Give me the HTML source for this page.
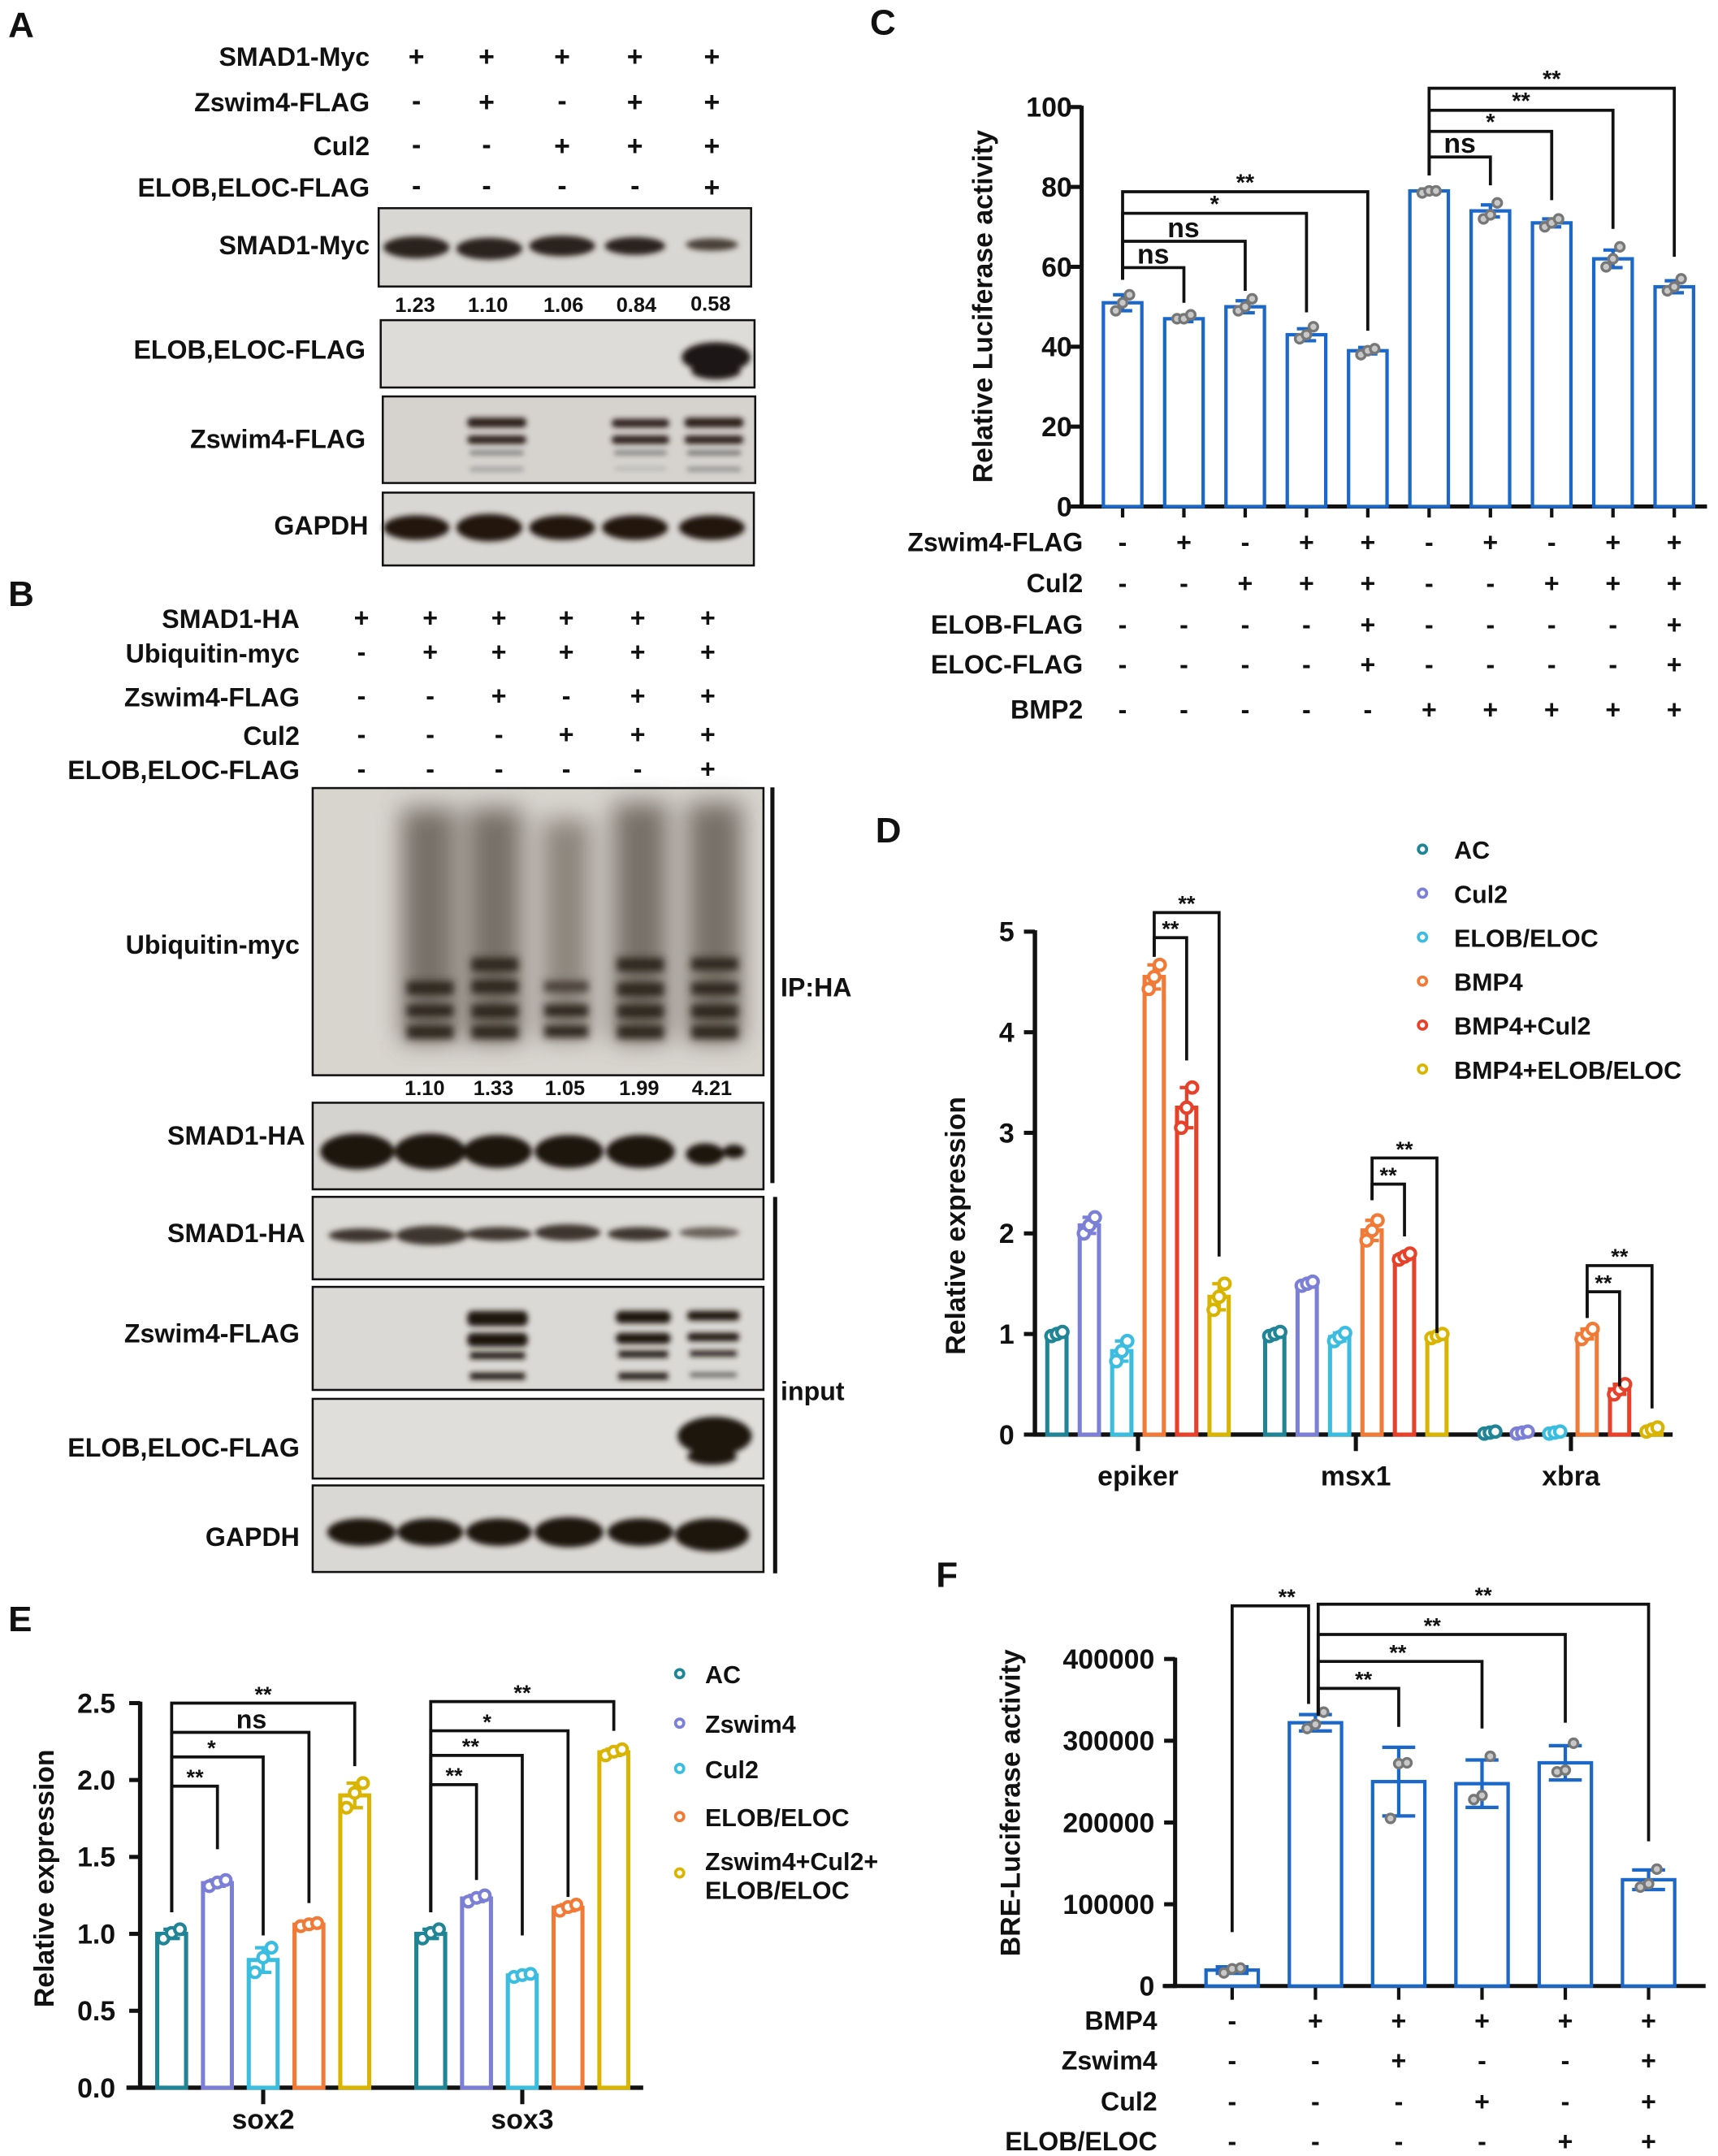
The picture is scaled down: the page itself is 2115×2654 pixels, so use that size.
<!DOCTYPE html>
<html><head><meta charset="utf-8"><style>
html,body{margin:0;padding:0;background:#fff;}
svg{display:block;}
text{font-family:"Liberation Sans",sans-serif;font-weight:bold;fill:#111;}
</style></head><body>
<svg id="fig" width="2115" height="2654" viewBox="0 0 1250 1569" preserveAspectRatio="none" xmlns="http://www.w3.org/2000/svg">
<defs>
<filter id="b2" x="-30%" y="-60%" width="160%" height="220%"><feGaussianBlur stdDeviation="2"/></filter>
<filter id="b3" x="-30%" y="-60%" width="160%" height="220%"><feGaussianBlur stdDeviation="2.8"/></filter>
<filter id="b4" x="-30%" y="-30%" width="160%" height="160%"><feGaussianBlur stdDeviation="4"/></filter>
<filter id="b8" x="-30%" y="-30%" width="160%" height="160%"><feGaussianBlur stdDeviation="9"/></filter>
</defs>

<!-- PANEL A -->
<g>
<text x="6" y="27" font-size="26">A</text>
<g font-size="19" text-anchor="end">
<text x="269" y="48">SMAD1-Myc</text><text x="269" y="81">Zswim4-FLAG</text><text x="269" y="113">Cul2</text><text x="269" y="143">ELOB,ELOC-FLAG</text>
</g>
<g font-size="20" text-anchor="middle">
<text x="303" y="48">+</text><text x="354" y="48">+</text><text x="409" y="48">+</text><text x="462" y="48">+</text><text x="518" y="48">+</text>
<text x="303" y="80">-</text><text x="354" y="81">+</text><text x="409" y="80">-</text><text x="462" y="81">+</text><text x="518" y="81">+</text>
<text x="303" y="112">-</text><text x="354" y="112">-</text><text x="409" y="113">+</text><text x="462" y="113">+</text><text x="518" y="113">+</text>
<text x="303" y="142">-</text><text x="354" y="142">-</text><text x="409" y="142">-</text><text x="462" y="142">-</text><text x="518" y="143">+</text>
</g>
<g>
<rect x="275.5" y="151.5" width="271" height="57" fill="#d9d7d3" stroke="#111" stroke-width="1.5"/>
<g filter="url(#b2)" fill="#2a211c"><ellipse cx="303" cy="180" rx="24" ry="8"/><ellipse cx="356" cy="181" rx="24" ry="8"/><ellipse cx="409" cy="179" rx="24" ry="7.5"/><ellipse cx="462" cy="179" rx="22" ry="6.5"/><ellipse cx="518" cy="178" rx="19" ry="4.5" fill="#4a3f38"/></g>
<text x="269" y="185" font-size="19" text-anchor="end">SMAD1-Myc</text>
</g>
<g font-size="15" text-anchor="middle">
<text x="302" y="227">1.23</text><text x="355" y="227">1.10</text><text x="410" y="227">1.06</text><text x="463" y="227">0.84</text><text x="517" y="226">0.58</text>
</g>
<g>
<rect x="277" y="233" width="272" height="49" fill="#dedcd8" stroke="#111" stroke-width="1.5"/>
<g filter="url(#b2)" fill="#1f1612"><ellipse cx="521" cy="260" rx="25" ry="11"/><ellipse cx="521" cy="270" rx="18" ry="6"/></g>
<text x="266" y="261" font-size="19" text-anchor="end">ELOB,ELOC-FLAG</text>
</g>
<g>
<rect x="278.5" y="288.5" width="271" height="63" fill="#d6d3cf" stroke="#111" stroke-width="1.5"/>
<g filter="url(#b2)" fill="#2a1e18">
<rect x="340" y="304" width="43" height="7" rx="3"/><rect x="340" y="317" width="43" height="6" rx="3"/><rect x="342" y="328" width="39" height="3" fill="#777"/><rect x="342" y="340" width="39" height="3" fill="#999"/>
<rect x="445" y="305" width="42" height="6" rx="3"/><rect x="445" y="317" width="42" height="6" rx="3"/><rect x="447" y="328" width="38" height="3" fill="#777"/><rect x="447" y="340" width="38" height="2" fill="#aaa"/>
<rect x="498" y="304" width="43" height="7" rx="3"/><rect x="498" y="317" width="43" height="6" rx="3"/><rect x="500" y="328" width="39" height="3" fill="#666"/><rect x="500" y="340" width="39" height="3" fill="#888"/>
</g>
<text x="266" y="326" font-size="19" text-anchor="end">Zswim4-FLAG</text>
</g>
<g>
<rect x="278.5" y="358.5" width="270" height="53" fill="#d9d7d4" stroke="#111" stroke-width="1.5"/>
<g filter="url(#b2)" fill="#22170f"><ellipse cx="303" cy="384" rx="24" ry="9"/><ellipse cx="356" cy="384" rx="24" ry="10"/><ellipse cx="409" cy="384" rx="24" ry="9"/><ellipse cx="462" cy="384" rx="24" ry="9"/><ellipse cx="518" cy="384" rx="24" ry="9"/></g>
<text x="268" y="389" font-size="19" text-anchor="end">GAPDH</text>
</g>
</g>

<!-- PANEL B -->
<g>
<text x="6" y="441" font-size="26">B</text>
<g font-size="19" text-anchor="end">
<text x="218" y="457">SMAD1-HA</text><text x="218" y="482">Ubiquitin-myc</text><text x="218" y="514">Zswim4-FLAG</text><text x="218" y="542">Cul2</text><text x="218" y="567">ELOB,ELOC-FLAG</text>
</g>
<g font-size="19" text-anchor="middle">
<text x="263" y="456">+</text><text x="313" y="456">+</text><text x="363" y="456">+</text><text x="412" y="456">+</text><text x="464" y="456">+</text><text x="515" y="456">+</text>
<text x="263" y="481">-</text><text x="313" y="481">+</text><text x="363" y="481">+</text><text x="412" y="481">+</text><text x="464" y="481">+</text><text x="515" y="481">+</text>
<text x="263" y="513">-</text><text x="313" y="513">-</text><text x="363" y="513">+</text><text x="412" y="513">-</text><text x="464" y="513">+</text><text x="515" y="513">+</text>
<text x="263" y="541">-</text><text x="313" y="541">-</text><text x="363" y="541">-</text><text x="412" y="541">+</text><text x="464" y="541">+</text><text x="515" y="541">+</text>
<text x="263" y="566">-</text><text x="313" y="566">-</text><text x="363" y="566">-</text><text x="412" y="566">-</text><text x="464" y="566">-</text><text x="515" y="566">+</text>
</g>
<g>
<rect x="227.5" y="573.5" width="328" height="209" fill="#d8d5cf" stroke="#111" stroke-width="1.5"/>
<g filter="url(#b8)" fill="#5e564e" opacity="0.8">
<rect x="292" y="588" width="40" height="170"/><rect x="340" y="588" width="40" height="170"/><rect x="394" y="596" width="36" height="160" fill="#7a7269"/><rect x="446" y="584" width="40" height="174"/><rect x="500" y="584" width="40" height="174"/>
</g>
<g filter="url(#b3)" fill="#2d251f">
<rect x="296" y="714" width="34" height="10"/><rect x="296" y="731" width="34" height="9"/><rect x="296" y="746" width="34" height="10"/>
<rect x="343" y="697" width="34" height="10"/><rect x="343" y="713" width="34" height="10"/><rect x="343" y="731" width="34" height="10"/><rect x="343" y="746" width="34" height="10"/>
<rect x="396" y="714" width="32" height="8" fill="#4a4038"/><rect x="396" y="731" width="32" height="9"/><rect x="396" y="746" width="32" height="9"/>
<rect x="449" y="697" width="34" height="10"/><rect x="449" y="715" width="34" height="10"/><rect x="449" y="731" width="34" height="10"/><rect x="449" y="746" width="34" height="10"/>
<rect x="503" y="697" width="34" height="9"/><rect x="503" y="715" width="34" height="9"/><rect x="503" y="731" width="34" height="10"/><rect x="503" y="746" width="34" height="10"/>
</g>
<text x="218" y="694" font-size="19" text-anchor="end">Ubiquitin-myc</text>
</g>
<g font-size="15" text-anchor="middle">
<text x="309" y="797">1.10</text><text x="359" y="797">1.33</text><text x="411" y="797">1.05</text><text x="465" y="797">1.99</text><text x="518" y="797">4.21</text>
</g>
<g>
<rect x="227.5" y="802.5" width="328" height="63" fill="#d5d3cf" stroke="#111" stroke-width="1.5"/>
<g filter="url(#b2)" fill="#1e140e"><ellipse cx="260" cy="838" rx="27" ry="13"/><ellipse cx="313" cy="838" rx="26" ry="13"/><ellipse cx="362" cy="838" rx="25" ry="12"/><ellipse cx="414" cy="838" rx="25" ry="12"/><ellipse cx="466" cy="838" rx="25" ry="12"/><ellipse cx="513" cy="840" rx="14" ry="8"/><ellipse cx="534" cy="838" rx="8" ry="5"/></g>
<text x="222" y="833" font-size="19" text-anchor="end">SMAD1-HA</text>
</g>
<line x1="562" y1="573" x2="562" y2="861" stroke="#111" stroke-width="3"/>
<text x="568" y="725" font-size="19">IP:HA</text>
<g>
<rect x="227.5" y="871" width="328" height="60" fill="#dcdad6" stroke="#111" stroke-width="1.5"/>
<g filter="url(#b2)" fill="#3e342d"><ellipse cx="263" cy="899" rx="24" ry="5"/><ellipse cx="314" cy="899" rx="26" ry="7"/><ellipse cx="363" cy="898" rx="24" ry="5"/><ellipse cx="413" cy="897" rx="24" ry="6"/><ellipse cx="465" cy="898" rx="23" ry="5"/><ellipse cx="516" cy="897" rx="22" ry="4" fill="#6a625a"/></g>
<text x="222" y="904" font-size="19" text-anchor="end">SMAD1-HA</text>
</g>
<g>
<rect x="227.5" y="936.5" width="328" height="75" fill="#dbd9d5" stroke="#111" stroke-width="1.5"/>
<g filter="url(#b2)" fill="#1e140e">
<rect x="340" y="954" width="44" height="11" rx="4"/><rect x="340" y="970" width="44" height="10" rx="4"/><rect x="342" y="984" width="40" height="5"/><rect x="342" y="999" width="40" height="5"/>
<rect x="448" y="954" width="40" height="9" rx="4"/><rect x="448" y="970" width="40" height="8" rx="4"/><rect x="450" y="983" width="36" height="5"/><rect x="450" y="999" width="36" height="5"/>
<rect x="500" y="954" width="38" height="7" rx="3"/><rect x="500" y="970" width="38" height="6" rx="3"/><rect x="502" y="983" width="34" height="4"/><rect x="502" y="999" width="34" height="3" fill="#555"/>
</g>
<text x="218" y="977" font-size="19" text-anchor="end">Zswim4-FLAG</text>
</g>
<g>
<rect x="227.5" y="1018" width="328" height="58" fill="#dfdedb" stroke="#111" stroke-width="1.5"/>
<g filter="url(#b2)" fill="#1e120c"><ellipse cx="520" cy="1045" rx="27" ry="14"/><ellipse cx="518" cy="1060" rx="18" ry="6"/></g>
<text x="218" y="1060" font-size="19" text-anchor="end">ELOB,ELOC-FLAG</text>
</g>
<g>
<rect x="227.5" y="1081" width="328" height="63" fill="#dad8d4" stroke="#111" stroke-width="1.5"/>
<g filter="url(#b2)" fill="#1f140d"><ellipse cx="263" cy="1115" rx="25" ry="10"/><ellipse cx="313" cy="1115" rx="24" ry="10"/><ellipse cx="363" cy="1115" rx="24" ry="10"/><ellipse cx="414" cy="1115" rx="25" ry="11"/><ellipse cx="466" cy="1115" rx="24" ry="10"/><ellipse cx="518" cy="1117" rx="27" ry="12"/></g>
<text x="218" y="1125" font-size="19" text-anchor="end">GAPDH</text>
</g>
<line x1="564" y1="871" x2="564" y2="1145" stroke="#111" stroke-width="3"/>
<text x="568" y="1019" font-size="19">input</text>
</g>

<text x="633" y="25" font-size="26">C</text>
<text x="637" y="613" font-size="26">D</text>
<text x="6" y="1187" font-size="26">E</text>
<text x="681" y="1155" font-size="26">F</text>
<g id="charts"></g>
</svg>
<script>
// ---------- DATA ----------
// Panel C
const cValues = [51, 47, 50, 43, 39, 79, 74, 71, 62, 55];
const cErr = [2, 0.7, 1.5, 1.5, 0.8, 0.5, 1.5, 1, 2.2, 1.5];
const cReps = [[49,51,53],[47,47,48],[49,50,52],[42,43,45],[38,39,39.5],[78.5,79,79],[72,73,76],[70,71,72],[60,62,65],[54,55,57]];
const cTicks = [0, 20, 40, 60, 80, 100];
const cBrackets = [[0,1,59.8,56.8,51,"ns"],[0,2,66.4,56.8,54,"ns"],[0,3,73.4,56.8,48.6,"*"],[0,4,78.8,56.8,44,"**"],
  [5,6,87.5,82.9,80.4,"ns"],[5,7,93.9,82.9,76.7,"*"],[5,8,99.2,82.9,69.5,"**"],[5,9,104.7,82.9,62.5,"**"]];
const cRowNames = ["Zswim4-FLAG","Cul2","ELOB-FLAG","ELOC-FLAG","BMP2"];
const cRows = [
  ["-","+","-","+","+","-","+","-","+","+"],
  ["-","-","+","+","+","-","-","+","+","+"],
  ["-","-","-","-","+","-","-","-","-","+"],
  ["-","-","-","-","+","-","-","-","-","+"],
  ["-","-","-","-","-","+","+","+","+","+"]];
// Panel D
const dGroups = ["epiker","msx1","xbra"];
const dSeries = ["AC","Cul2","ELOB/ELOC","BMP4","BMP4+Cul2","BMP4+ELOB/ELOC"];
const dAC = [1.0, 1.0, 0.02];
const dCul2 = [2.08, 1.5, 0.02];
const dELOB = [0.83, 0.97, 0.02];
const dBMP4 = [4.55, 2.03, 1.0];
const dBMP4Cul2 = [3.25, 1.77, 0.45];
const dBMP4ELOB = [1.37, 0.98, 0.05];
const dErr = [[0.02,0.02,0.01],[0.08,0.02,0.01],[0.1,0.04,0.01],[0.12,0.1,0.05],[0.2,0.03,0.05],[0.13,0.02,0.02]];
const dTicks = [0,1,2,3,4,5];
const dBrackets = [[0,3,4,4.94,4.75,3.72],[0,3,5,5.19,4.75,1.77],[1,3,4,2.49,2.33,1.97],[1,3,5,2.75,2.33,1.01],[2,3,4,1.42,1.16,0.48],[2,3,5,1.68,1.16,0.26]];
// Panel E
const eGroups = ["sox2","sox3"];
const eSeries = ["AC","Zswim4","Cul2","ELOB/ELOC","Zswim4+Cul2+\nELOB/ELOC"];
const eAC = [1.0, 1.0];
const eZswim4 = [1.33, 1.23];
const eCul2 = [0.83, 0.73];
const eELOB = [1.06, 1.17];
const eCombo = [1.9, 2.18];
const eErr = [[0.03,0.03],[0.02,0.02],[0.08,0.01],[0.01,0.02],[0.08,0.02]];
const eTicks = [0, 0.5, 1.0, 1.5, 2.0, 2.5];
const eBrackets = [[0,1,1.96,1.14,1.55,"**"],[0,2,2.15,1.14,0.99,"*"],[0,3,2.31,1.14,1.2,"ns"],[0,4,2.5,1.14,2.09,"**"],
  [1,1,1.97,1.14,1.35,"**"],[1,2,2.16,1.14,0.99,"**"],[1,3,2.32,1.14,1.24,"*"],[1,4,2.51,1.14,2.32,"**"]];
// Panel F
const fValues = [19500, 322000, 250000, 247500, 273000, 130000];
const fErr = [4000, 10000, 42000, 29000, 21000, 12000];
const fReps = [[16000,21000,22000],[315000,320000,335000],[205000,272000,273000],[228000,233000,281000],[262000,264000,297000],[121000,125000,143000]];
const fTicks = [0, 100000, 200000, 300000, 400000];
const fBrackets = [[0,1,465000,66000,345000],[1,2,364000,331000,317000],[1,3,397000,331000,315000],[1,4,430000,331000,322000],[1,5,467000,331000,177000]];
const fRowNames = ["BMP4","Zswim4","Cul2","ELOB/ELOC"];
const fRows = [["-","+","+","+","+","+"],["-","-","+","-","-","+"],["-","-","-","+","-","+"],["-","-","-","-","+","+"]];

const colors = {AC:"#1e8496",Cul2:"#7b7fd6",Zswim4:"#7b7fd6",ELOB:"#3bbde0",BMP4:"#f07a36",BMP4Cul2:"#e8412a",gold:"#d9b400",cyan:"#3bbde0",orange:"#f07a36"};
const dColors = [colors.AC, colors.Cul2, colors.ELOB, colors.BMP4, colors.BMP4Cul2, colors.gold];
const eColors = [colors.AC, colors.Zswim4, colors.cyan, colors.orange, colors.gold];

// ---------- HELPERS ----------
const NS = "http://www.w3.org/2000/svg";
const root = document.getElementById("charts");
function mk(parent, tag, attrs, txt) {
  const el = document.createElementNS(NS, tag);
  for (const k in attrs) el.setAttribute(k, attrs[k]);
  if (txt !== undefined) el.textContent = txt;
  parent.appendChild(el);
  return el;
}
function grp(name) {
  const g = mk(root, "g", {});
  
  
  return g;
}
function line(g, x1, y1, x2, y2, w, c, name) {
  const el = mk(g, "line", {x1, y1, x2, y2, stroke: c || "#111", "stroke-width": w || 2.5});
  
  
  return el;
}
function txt(g, x, y, s, size, anchor, name, extra) {
  const el = mk(g, "text", Object.assign({x, y, "font-size": size, "text-anchor": anchor || "middle"}, extra || {}), s);
  
  
  return el;
}
function dot(g, x, y, r, stroke, fill, w, name) {
  const el = mk(g, "circle", {cx: x, cy: y, r, stroke, fill, "stroke-width": w});
  
  
  return el;
}
function bar(g, x, w, y0, y1, c, sw, name) {
  const el = mk(g, "rect", {x: x - w/2, y: y1, width: w, height: Math.max(0, y0 - y1), fill: "#fff", stroke: c, "stroke-width": sw});
  
  
  return el;
}
function errbar(g, x, yHi, yLo, cap, c, w) {
  line(g, x, yHi, x, yLo, w, c, 'error-bar');
  line(g, x - cap, yHi, x + cap, yHi, w, c, 'error-cap-top');
  line(g, x - cap, yLo, x + cap, yLo, w, c, 'error-cap-bottom');
}
function bracket(g, xa, xb, yl, ya, yb, label, size, lx) {
  const el = mk(g, "polyline", {points: `${xa},${ya} ${xa},${yl} ${xb},${yl} ${xb},${yb}`, fill: "none", stroke: "#111", "stroke-width": 2.2});
  
  
  const isNs = label === "ns";
  txt(g, lx !== undefined ? lx : (xa + xb) / 2, isNs ? yl - 3 : yl - 1, label, isNs ? size + 3 : size, "middle", 'significance-label');
}

// ---------- PANEL C ----------
(function () {
  const g = grp('panel-c-chart');
  const x0 = 787, yb = 368.6, yt = 77.9, vmax = 100;
  const y = v => yb - (v / vmax) * (yb - yt);
  const xc = i => 816.8 + i * 44.6;
  line(g, x0, yt - 1, x0, yb + 1.5, 3, "#111", 'c-y-axis');
  line(g, x0 - 1.5, yb, 1242, yb, 3, "#111", 'c-x-axis');
  cTicks.forEach(t => { line(g, x0 - 8, y(t), x0, y(t), 3, "#111", 'c-y-tick'); txt(g, 780, y(t) + 7, String(t), 20, "end", 'c-y-tick-label'); });
  txt(g, 0, 0, "Relative Luciferase activity", 20, "middle", 'c-y-axis-title', {transform: "translate(722,223) rotate(-90)"});
  cValues.forEach((v, i) => {
    line(g, xc(i), yb, xc(i), yb + 8, 2.5, "#111", 'c-x-tick');
    bar(g, xc(i), 28, yb, y(v), "#1b68c9", 2.5, 'c-bar-' + (i + 1));
    errbar(g, xc(i), y(v + cErr[i]), y(v - cErr[i]), 7, "#1b68c9", 2.5);
    cReps[i].forEach((r, k) => dot(g, xc(i) - 5 + k * 5, y(r), 3.2, "#777", "#c8c8c8", 2, 'c-replicate-point'));
  });
  cBrackets.forEach(b => bracket(g, xc(b[0]), xc(b[1]), y(b[2]), y(b[3]), y(b[4]), b[5], 17, b[5] === "ns" ? (xc(b[0]) + xc(b[0]+1)) / 2 + (b[1]-b[0]-1) * 22 : undefined));
  cRowNames.forEach((n, r) => {
    const yy = [401, 431, 461, 490, 523][r];
    txt(g, 788, yy, n, 19, "end", 'c-row-label');
    cRows[r].forEach((s, i) => txt(g, xc(i), yy, s, 19, "middle", 'c-condition-mark'));
  });
})();

// ---------- PANEL D ----------
(function () {
  const g = grp('panel-d-chart');
  const x0 = 753, yb = 1044, yt = 678, vmax = 5;
  const y = v => yb - (v / vmax) * (yb - yt);
  const gc = [828, 986.5, 1143];
  const xb = (gi, si) => gc[gi] + (si - 2.5) * 23.6;
  const series = [dAC, dCul2, dELOB, dBMP4, dBMP4Cul2, dBMP4ELOB];
  line(g, x0, yt - 1, x0, yb + 1.5, 3.2, "#111", 'd-y-axis');
  line(g, x0 - 1.5, yb, 1217, yb, 3.2, "#111", 'd-x-axis');
  dTicks.forEach(t => { line(g, x0 - 8, y(t), x0, y(t), 3, "#111", 'd-y-tick'); txt(g, 738, y(t) + 7, String(t), 20, "end", 'd-y-tick-label'); });
  txt(g, 0, 0, "Relative expression", 20, "middle", 'd-y-axis-title', {transform: "translate(702,892) rotate(-90)"});
  dGroups.forEach((n, gi) => { line(g, gc[gi], yb, gc[gi], yb + 12, 3, "#111", 'd-x-tick'); txt(g, gc[gi], yb + 37, n, 20, "middle", 'd-x-tick-label'); });
  series.forEach((vals, si) => vals.forEach((v, gi) => {
    const x = xb(gi, si), c = dColors[si], e = dErr[si][gi];
    bar(g, x, 14, yb, y(v), c, 3, 'd-bar-' + dSeries[si] + '-' + dGroups[gi]);
    errbar(g, x, y(v + e), y(v - e), 5, c, 2.5);
    [v - e, v, v + e].forEach((r, k) => dot(g, x - 4 + k * 4, y(r), 4, c, "#fff", 2.5, 'd-replicate-point'));
  }));
  dBrackets.forEach(b => bracket(g, xb(b[0], b[1]), xb(b[0], b[2]), y(b[3]), y(b[4]), y(b[5]), "**", 16));
  dSeries.forEach((n, si) => {
    const yy = [618, 650, 682, 714, 746, 778][si];
    dot(g, 1035, yy, 3, dColors[si], "#fff", 2.2, 'd-legend-marker');
    txt(g, 1058, yy + 7, n, 18, "start", 'd-legend-entry');
  });
})();

// ---------- PANEL E ----------
(function () {
  const g = grp('panel-e-chart');
  const x0 = 102, yb = 1519.3, yt = 1239.4, vmax = 2.5;
  const y = v => yb - (v / vmax) * (yb - yt);
  const gc = [191.5, 380];
  const xb = (gi, si) => gc[gi] + (si - 2) * 33.3;
  const series = [eAC, eZswim4, eCul2, eELOB, eCombo];
  line(g, x0, yt - 1, x0, yb + 1.5, 3.2, "#111", 'e-y-axis');
  line(g, 92, yb, 468, yb, 3.2, "#111", 'e-x-axis');
  eTicks.forEach(t => { line(g, x0 - 8, y(t), x0, y(t), 3, "#111", 'e-y-tick'); txt(g, 84, y(t) + 7, t.toFixed(1), 20, "end", 'e-y-tick-label'); });
  txt(g, 0, 0, "Relative expression", 20, "middle", 'e-y-axis-title', {transform: "translate(39,1367) rotate(-90)"});
  eGroups.forEach((n, gi) => { line(g, gc[gi], yb, gc[gi], yb + 12, 3, "#111", 'e-x-tick'); txt(g, gc[gi], yb + 30, n, 20, "middle", 'e-x-tick-label'); });
  series.forEach((vals, si) => vals.forEach((v, gi) => {
    const x = xb(gi, si), c = eColors[si], e = eErr[si][gi];
    bar(g, x, 21, yb, y(v), c, 3, 'e-bar-' + si + '-' + eGroups[gi]);
    errbar(g, x, y(v + e), y(v - e), 6, c, 2.5);
    [v - e, v + e * 0.2, v + e].forEach((r, k) => dot(g, x - 6 + k * 6, y(r), 3.8, c, "#fff", 2.5, 'e-replicate-point'));
  }));
  eBrackets.forEach(b => bracket(g, xb(b[0], 0), xb(b[0], b[1]), y(b[2]), y(b[3]), y(b[4]), b[5], 16,
     b[5] === "ns" ? xb(b[0],0) + 58 : (b[1] === 4 ? (xb(b[0],0)+xb(b[0],4))/2 : xb(b[0],0) + 17 + (b[1]-1) * 12)));
  const ly = [1218, 1254, 1287, 1322, 1354];
  eSeries.forEach((n, si) => {
    dot(g, 494.5, ly[si] + (si === 4 ? 9 : 0), 3, eColors[si], "#fff", 2.2, 'e-legend-marker');
    const parts = n.split("\n");
    parts.forEach((p, k) => txt(g, 513, ly[si] + 7 + k * 21, p, 18, "start", 'e-legend-entry'));
  });
})();

// ---------- PANEL F ----------
(function () {
  const g = grp('panel-f-chart');
  const x0 = 855, yb = 1445.3, yt = 1207.3, vmax = 400000;
  const y = v => yb - (v / vmax) * (yb - yt);
  const xc = i => 896.5 + i * 60.6;
  line(g, x0, yt - 1, x0, yb + 1.5, 3, "#111", 'f-y-axis');
  line(g, 846, yb, 1241, yb, 3, "#111", 'f-x-axis');
  fTicks.forEach(t => { line(g, x0 - 8, y(t), x0, y(t), 3, "#111", 'f-y-tick'); txt(g, 840, y(t) + 7, String(t), 20, "end", 'f-y-tick-label'); });
  txt(g, 0, 0, "BRE-Luciferase activity", 20, "middle", 'f-y-axis-title', {transform: "translate(742,1312) rotate(-90)"});
  fValues.forEach((v, i) => {
    line(g, xc(i), yb, xc(i), yb + 10, 2.5, "#111", 'f-x-tick');
    bar(g, xc(i), 38, yb, y(v), "#1b68c9", 2.5, 'f-bar-' + (i + 1));
    errbar(g, xc(i), y(v + fErr[i]), y(v - fErr[i]), 12, "#1b68c9", 2.5);
    fReps[i].forEach((r, k) => dot(g, xc(i) - 6 + k * 6, y(r), 3.2, "#777", "#c8c8c8", 2, 'f-replicate-point'));
  });
  fBrackets.forEach((b, k) => {
    const xa = k === 0 ? xc(b[0]) : xc(b[0]) + 2;
    const xe = k === 0 ? xc(b[1]) - 5 : xc(b[1]);
    bracket(g, xa, xe, y(b[2]), y(b[3]), y(b[4]), "**", 16, k === 0 ? (xa + xe) / 2 + 12 : (k === 4 ? (xa + xe) / 2 : xa + 33 + (k - 1) * 25));
  });
  fRowNames.forEach((n, r) => {
    const yy = [1477, 1506, 1536, 1565][r];
    txt(g, 842, yy, n, 19, "end", 'f-row-label');
    fRows[r].forEach((s, i) => txt(g, xc(i), yy, s, 19, "middle", 'f-condition-mark'));
  });
})();
</script>
</body></html>
